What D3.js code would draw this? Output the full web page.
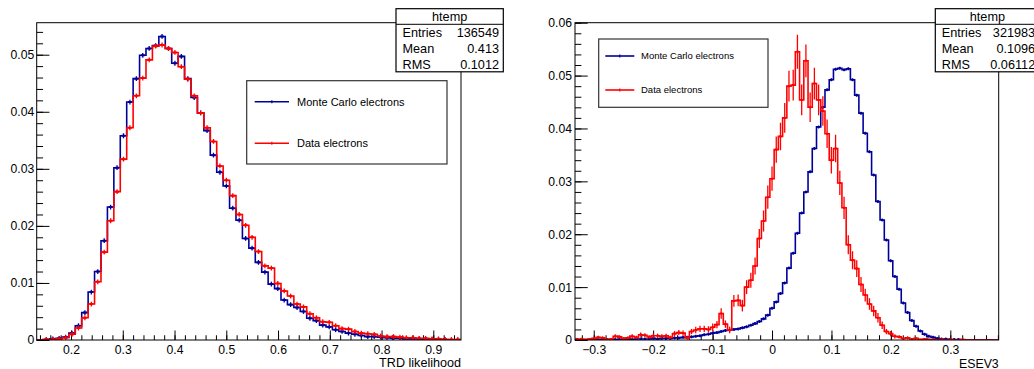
<!DOCTYPE html>
<html><head><meta charset="utf-8">
<script src="https://cdn.jsdelivr.net/npm/d3@7"></script>
<style>
body{margin:0;background:#fff}
svg{display:block}
text{font-family:"Liberation Sans",Arial,Helvetica,sans-serif}
</style>
</head><body>
<svg id="c" width="1034" height="369"></svg>
<script>
// ---------------- data ----------------
const leftRange = [0.1337, 0.9535];
const leftMC = [0.0000,0.0001,0.0002,0.0003,0.0005,0.0012,0.0025,0.0048,0.0084,0.0120,
  0.0174,0.0233,0.0302,0.0358,0.0417,0.0458,0.0499,0.0511,0.0516,0.0532,
  0.0511,0.0485,0.0497,0.0458,0.0425,0.0398,0.0367,0.0324,0.0294,0.0270,
  0.0231,0.0210,0.0178,0.0161,0.0136,0.0119,0.0098,0.0090,0.0070,0.0062,
  0.0057,0.0050,0.0038,0.0034,0.0026,0.0023,0.0018,0.0015,0.0012,0.0010,
  0.0008,0.0006,0.0006,0.0005,0.0004,0.0003,0.0003,0.0002,0.0002,0.0002,
  0.0001,0.0001,0.0001,0.0001,0.0000,0.0000];
const leftData = [0.0000,0.0001,0.0001,0.0002,0.0004,0.0010,0.0021,0.0039,0.0063,0.0102,
  0.0154,0.0209,0.0260,0.0317,0.0372,0.0428,0.0459,0.0491,0.0515,0.0517,
  0.0511,0.0504,0.0479,0.0457,0.0428,0.0398,0.0372,0.0348,0.0305,0.0280,
  0.0253,0.0220,0.0201,0.0180,0.0155,0.0130,0.0126,0.0099,0.0086,0.0077,
  0.0063,0.0058,0.0046,0.0039,0.0032,0.0031,0.0025,0.0020,0.0019,0.0015,
  0.0012,0.0011,0.0010,0.0007,0.0006,0.0006,0.0005,0.0004,0.0004,0.0003,
  0.0003,0.0002,0.0002,0.0001,0.0001,0.0001];

const rightRange = [-0.3315, 0.3814];
const rightMC = [0,0,0,0.0001,0,0.0001,0.0001,0.0001,0.0001,0.0001,
  0.0001,0.0001,0.0002,0.0001,0.0002,0.0002,0.0002,0.0002,0.0003,0.0002,
  0.0003,0.0003,0.0003,0.0004,0.0004,0.0005,0.0005,0.0006,0.0007,0.0008,
  0.0010,0.0011,0.0013,0.0014,0.0016,0.0018,0.0019,0.0020,0.0021,0.0023,
  0.0025,0.0028,0.0031,0.0035,0.0040,0.0047,0.0060,0.0072,0.0088,0.0108,
  0.0136,0.0164,0.0202,0.0240,0.0280,0.0318,0.0362,0.0403,0.0440,0.0473,
  0.0492,0.0512,0.0514,0.0511,0.0513,0.0492,0.0463,0.0429,0.0391,0.0356,
  0.0312,0.0262,0.0227,0.0189,0.0150,0.0120,0.0096,0.0070,0.0052,0.0037,
  0.0026,0.0017,0.0011,0.0007,0.0005,0.0003,0.0002,0.0002,0.0001,0.0001,
  0.0001,0,0,0,0,0,0,0,0,0];
const rightData = [0.0002,0.0002,0.0001,0.0002,0.0003,0.0005,0.0004,0.0001,0.0002,0.0007,
  0.0006,0.0003,0.0004,0.0007,0.0005,0.0010,0.0009,0.0006,0.0008,0.0008,
  0.0007,0.0008,0.0005,0.0012,0.0014,0.0013,0.0004,0.0016,0.0019,0.0021,
  0.0021,0.0020,0.0024,0.0029,0.0050,0.0030,0.0019,0.0074,0.0075,0.0065,
  0.0100,0.0113,0.0140,0.0192,0.0225,0.0270,0.0305,0.0360,0.0385,0.0420,
  0.0480,0.0482,0.0545,0.0454,0.0528,0.0440,0.0485,0.0454,0.0433,0.0390,
  0.0340,0.0362,0.0297,0.0250,0.0180,0.0151,0.0135,0.0105,0.0085,0.0068,
  0.0055,0.0042,0.0028,0.0016,0.0012,0.0007,0.0006,0.0003,0.0004,0.0002,
  0.0003,0.0001,0.0002,0.0001,0.0001,0,0.0001,0,0.0001,0,
  0,0.0001,0,0,0,0,0,0,0,0];
const rightDataErr = [0.0002,0.0002,0.0001,0.0002,0.0002,0.0003,0.0003,0.0001,0.0002,0.0004,
  0.0003,0.0002,0.0003,0.0004,0.0003,0.0004,0.0004,0.0003,0.0004,0.0004,
  0.0004,0.0004,0.0003,0.0005,0.0005,0.0005,0.0003,0.0005,0.0006,0.0006,
  0.0006,0.0006,0.0007,0.0007,0.0010,0.0007,0.0006,0.0011,0.0011,0.0011,
  0.0013,0.0014,0.0016,0.0018,0.0020,0.0022,0.0023,0.0025,0.0026,0.0028,
  0.0029,0.0029,0.0032,0.0029,0.0031,0.0028,0.0030,0.0029,0.0028,0.0027,
  0.0025,0.0026,0.0023,0.0021,0.0018,0.0017,0.0016,0.0014,0.0012,0.0011,
  0.0010,0.0009,0.0007,0.0005,0.0005,0.0004,0.0003,0.0002,0.0003,0.0002,
  0.0002,0.0001,0.0002,0.0001,0.0001,0,0.0001,0,0.0001,0,
  0,0.0001,0,0,0,0,0,0,0,0];

const leftXTicks = [0.2,0.3,0.4,0.5,0.6,0.7,0.8,0.9];
const leftXLabels = ["0.2","0.3","0.4","0.5","0.6","0.7","0.8","0.9"];
const leftYTicks = [0,0.01,0.02,0.03,0.04,0.05];
const leftYLabels = ["0","0.01","0.02","0.03","0.04","0.05"];
const rightXTicks = [-0.3,-0.2,-0.1,0,0.1,0.2,0.3];
const rightXLabels = ["\u22120.3","\u22120.2","\u22120.1","0","0.1","0.2","0.3"];
const rightYTicks = [0,0.01,0.02,0.03,0.04,0.05,0.06];
const rightYLabels = ["0","0.01","0.02","0.03","0.04","0.05","0.06"];
const seriesNames = ["Monte Carlo electrons","Data electrons"];
const leftTitle = "TRD likelihood";
const rightTitle = "ESEV3";
const statsLeft = [["Entries","136549"],["Mean","0.413"],["RMS","0.1012"]];
const statsRight = [["Entries","321983"],["Mean","0.1096"],["RMS","0.06112"]];
const statsName = "htemp";

// ---------------- drawing ----------------
const BLUE = "#000099", RED = "#ff0000";
const svg = d3.select("#c");
svg.append("rect").attr("width",1034).attr("height",369).attr("fill","#fff");

function drawPanel(cfg){
  const g = svg.append("g");
  const x = d3.scaleLinear().domain(cfg.range).range([cfg.fx0, cfg.fx1]);
  const y = d3.scaleLinear().domain([0, cfg.ymax]).range([cfg.fy1, cfg.fy0]);
  const W = cfg.fx1 - cfg.fx0, H = cfg.fy1 - cfg.fy0;

  const clipId = "clip" + cfg.id;
  svg.append("defs").append("clipPath").attr("id", clipId)
    .append("rect").attr("x", cfg.fx0).attr("y", cfg.fy0).attr("width", W).attr("height", H);

  const styleAxis = sel => {
    sel.select(".domain").remove();
    sel.selectAll(".tick line").attr("stroke","#000").attr("stroke-width",1);
    sel.selectAll("text").attr("font-size", 12.2).attr("fill","#000")
      .attr("font-family","Liberation Sans, Arial, sans-serif");
  };

  g.append("g").attr("transform",`translate(0,${cfg.fy1})`)
    .call(d3.axisBottom(x).tickValues(cfg.xMinor).tickSize(-H*0.015).tickFormat(""))
    .call(styleAxis);
  g.append("g").attr("transform",`translate(0,${cfg.fy1})`)
    .call(d3.axisBottom(x).tickValues(cfg.xTicks).tickSize(-H*0.03).tickPadding(5)
      .tickFormat((d,i)=>cfg.xLabels[i]))
    .call(styleAxis);
  g.append("g").attr("transform",`translate(${cfg.fx0},0)`)
    .call(d3.axisLeft(y).tickValues(cfg.yMinor).tickSize(-W*0.015).tickFormat(""))
    .call(styleAxis);
  g.append("g").attr("transform",`translate(${cfg.fx0},0)`)
    .call(d3.axisLeft(y).tickValues(cfg.yTicks).tickSize(-W*0.03).tickPadding(cfg.yPad)
      .tickFormat((d,i)=>cfg.yLabels[i]))
    .call(styleAxis);

  const hg = g.append("g").attr("clip-path",`url(#${clipId})`);
  const line = d3.line().x(d=>x(d[0])).y(d=>y(d[1])).curve(d3.curveStepAfter);
  function hist(vals, color, errs, crossSize){
    const n = vals.length, w = (cfg.range[1]-cfg.range[0])/n;
    const pts = vals.map((v,i)=>[cfg.range[0]+i*w, v]);
    pts.push([cfg.range[1], vals[n-1]]);
    hg.append("path").attr("d", line(pts)).attr("fill","none")
      .attr("stroke", color).attr("stroke-width", 1.6);
    vals.forEach((v,i)=>{
      if (v <= 0) return;
      const cx = x(cfg.range[0]+(i+0.5)*w), cy = y(v);
      if (errs){
        const e = errs[i];
        if (e > 0) hg.append("line").attr("x1",cx).attr("x2",cx)
          .attr("y1",y(v-e)).attr("y2",y(v+e)).attr("stroke",color).attr("stroke-width",1.3);
        hg.append("line").attr("x1",cx-1.2).attr("x2",cx+1.2).attr("y1",cy).attr("y2",cy)
          .attr("stroke",color).attr("stroke-width",2);
      } else if (crossSize){
        hg.append("line").attr("x1",cx).attr("x2",cx)
          .attr("y1",cy-crossSize).attr("y2",cy+crossSize).attr("stroke",color).attr("stroke-width",1.3);
        hg.append("line").attr("x1",cx-crossSize*0.8).attr("x2",cx+crossSize*0.8).attr("y1",cy).attr("y2",cy)
          .attr("stroke",color).attr("stroke-width",2);
      }
    });
  }
  hist(cfg.mc, BLUE, null, cfg.mcCross);
  hist(cfg.data, RED, cfg.dataErr, cfg.dataCross);

  g.append("rect").attr("x",cfg.fx0).attr("y",cfg.fy0).attr("width",W).attr("height",H)
    .attr("fill","none").attr("stroke","#000").attr("stroke-width",1);

  g.append("text").attr("x",cfg.fx1).attr("y",cfg.titleY).attr("text-anchor","end")
    .attr("font-size",cfg.titleSize).text(cfg.title);

  const L = cfg.legend;
  g.append("rect").attr("x",L.x0).attr("y",L.y0).attr("width",L.x1-L.x0).attr("height",L.y1-L.y0)
    .attr("fill","#fff").attr("stroke","#333").attr("stroke-width",1.2);
  [BLUE, RED].forEach((c,i)=>{
    const ly = L.rows[i];
    g.append("line").attr("x1",L.lx0).attr("x2",L.lx1).attr("y1",ly).attr("y2",ly)
      .attr("stroke",c).attr("stroke-width",1.6);
    const mx = (L.lx0+L.lx1)/2;
    g.append("line").attr("x1",mx).attr("x2",mx).attr("y1",ly-1.5).attr("y2",ly+1.5)
      .attr("stroke",c).attr("stroke-width",1.2);
    g.append("text").attr("x",L.tx).attr("y",ly).attr("dy","0.35em")
      .attr("font-size",L.size).attr("fill","#000").text(seriesNames[i]);
  });

  const S = cfg.stats;
  g.append("rect").attr("x",S.x0).attr("y",S.y0).attr("width",S.x1-S.x0).attr("height",S.y1-S.y0)
    .attr("fill","#fff").attr("stroke","#000").attr("stroke-width",1.2);
  g.append("line").attr("x1",S.x0).attr("x2",S.x1).attr("y1",S.yt).attr("y2",S.yt)
    .attr("stroke","#000").attr("stroke-width",1);
  g.append("text").attr("x",(S.x0+S.x1)/2).attr("y",(S.y0+S.yt)/2).attr("dy","0.35em")
    .attr("text-anchor","middle").attr("font-size",S.size).text(statsName);
  cfg.statsRows.forEach((r,i)=>{
    const ry = S.rows[i];
    g.append("text").attr("x",S.x0+6.5).attr("y",ry).attr("dy","0.35em")
      .attr("font-size",S.size).text(r[0]);
    g.append("text").attr("x",S.x1-4.3).attr("y",ry).attr("dy","0.35em")
      .attr("text-anchor","end").attr("font-size",S.size).text(r[1]);
  });
}

drawPanel({
  id:"L", range:leftRange, ymax:0.05561, fx0:36.7, fx1:461, fy0:22.7, fy1:340,
  xTicks:leftXTicks, xLabels:leftXLabels, xMinor:d3.range(0.14,0.955,0.02),
  yTicks:leftYTicks, yLabels:leftYLabels, yMinor:d3.range(0,0.0556,0.002), yPad:2.5,
  mc:leftMC, data:leftData, dataErr:null, mcCross:2.4, dataCross:2.4,
  title:leftTitle, titleY:366.8, titleSize:12.6,
  legend:{x0:246.7,x1:447,y0:80.7,y1:164,lx0:254.7,lx1:289,tx:297,rows:[101.7,143.3],size:11},
  stats:{x0:396,x1:503.3,y0:8.7,yt:24.3,y1:71.8,rows:[32.3,48.5,64.3],size:12.7},
  statsRows:statsLeft
});
drawPanel({
  id:"R", range:rightRange, ymax:0.06, fx0:575, fx1:998.7, fy0:22.7, fy1:340,
  xTicks:rightXTicks, xLabels:rightXLabels, xMinor:d3.range(-0.32,0.381,0.02),
  yTicks:rightYTicks, yLabels:rightYLabels, yMinor:d3.range(0,0.0601,0.002), yPad:3,
  mc:rightMC, data:rightData, dataErr:rightDataErr, mcCross:1.5, dataCross:0,
  title:rightTitle, titleY:367.5, titleSize:12.3,
  legend:{x0:598.7,x1:768,y0:39,y1:107.3,lx0:605.3,lx1:634.3,tx:641,rows:[56,90],size:9.5},
  stats:{x0:935.3,x1:1039.5,y0:8.7,yt:24.3,y1:71.8,rows:[32.3,48.5,64.3],size:12.7},
  statsRows:statsRight
});
</script>
</body></html>
